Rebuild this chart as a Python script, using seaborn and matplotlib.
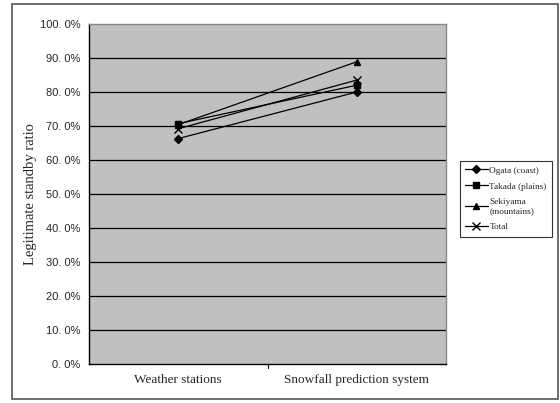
import numpy as np
import pandas as pd
import seaborn as sns
import matplotlib.pyplot as plt
from matplotlib.patches import Rectangle
from matplotlib.ticker import FuncFormatter

categories = ['Weather stations', 'Snowfall prediction system']
series_names = ['Ogata (coast)', 'Takada (plains)', 'Sekiyama\n(mountains)', 'Total']
ogata = [66.3, 80.0]
takada = [70.7, 82.0]
sekiyama = [70.4, 88.9]
total = [69.2, 83.5]
y_ticks = [0, 10, 20, 30, 40, 50, 60, 70, 80, 90, 100]

rows = []
for name, vals in zip(series_names, [ogata, takada, sekiyama, total]):
    for i, v in enumerate(vals):
        rows.append({'pos': i, 'ratio': v, 'series': name})
df = pd.DataFrame(rows)

sns.set_style('white')
plt.rcParams['font.family'] = ['Liberation Serif', 'DejaVu Serif']

fig = plt.figure(figsize=(5.6, 4.03), dpi=100)
ax = fig.add_axes([89 / 560, 39 / 403, 357 / 560, 340 / 403])
ax.set_facecolor('#C0C0C0')

# outer chart border
fig.patches.append(Rectangle((12 / 560, 4 / 403), 546 / 560, 395 / 403,
                             transform=fig.transFigure, fill=False,
                             edgecolor='#555555', linewidth=1.2))

for t in y_ticks[1:-1]:
    ax.axhline(t, color='black', linewidth=0.9, zorder=1)

markers = {series_names[0]: 'D', series_names[1]: 's',
           series_names[2]: '^', series_names[3]: 'x'}
sizes = {series_names[0]: 4.5, series_names[1]: 5,
         series_names[2]: 5, series_names[3]: 6}
for name in series_names:
    sub = df[df['series'] == name]
    sns.lineplot(data=sub, x='pos', y='ratio', ax=ax, color='black',
                 marker=markers[name], markersize=sizes[name],
                 markeredgecolor='black', markerfacecolor='black',
                 markeredgewidth=1.0, linewidth=0.9, label=name, zorder=3)

ax.set_xlim(-0.5, 1.5)
ax.set_ylim(0, 100)
ax.set_yticks(y_ticks)
ax.yaxis.set_major_formatter(FuncFormatter(lambda v, p: f'{v:.1f}'.replace('.', '. ') + '%'))
ax.set_xticks([0, 1])
ax.set_xticklabels(categories, fontsize=9.5)
ax.tick_params(axis='x', length=0, pad=7)
ax.tick_params(axis='y', length=0, pad=6)
for lbl in ax.get_yticklabels():
    lbl.set_family(['Liberation Sans', 'DejaVu Sans'])
    lbl.set_fontsize(8)
ax.plot([0.5, 0.5], [0, -1.2], color='black', linewidth=0.8, clip_on=False)
ax.set_xlabel('')
ax.set_ylabel('Legitimate standby ratio', fontsize=10.5, labelpad=2)

for side in ['left', 'bottom']:
    ax.spines[side].set_color('black')
    ax.spines[side].set_linewidth(1.0)
for side in ['top', 'right']:
    ax.spines[side].set_color('#888888')
    ax.spines[side].set_linewidth(1.0)

handles, labels = ax.get_legend_handles_labels()
ax.legend(handles, labels, loc='upper left',
          bbox_to_anchor=(455 / 560, 247 / 403), bbox_transform=fig.transFigure,
          fontsize=6.7, frameon=True, fancybox=False, edgecolor='black',
          handlelength=2.4, labelspacing=0.8, borderpad=0.6,
          handletextpad=0.2, markerscale=0.9)
ax.get_legend().get_frame().set_linewidth(0.8)

fig.savefig('out.png', dpi=100)
